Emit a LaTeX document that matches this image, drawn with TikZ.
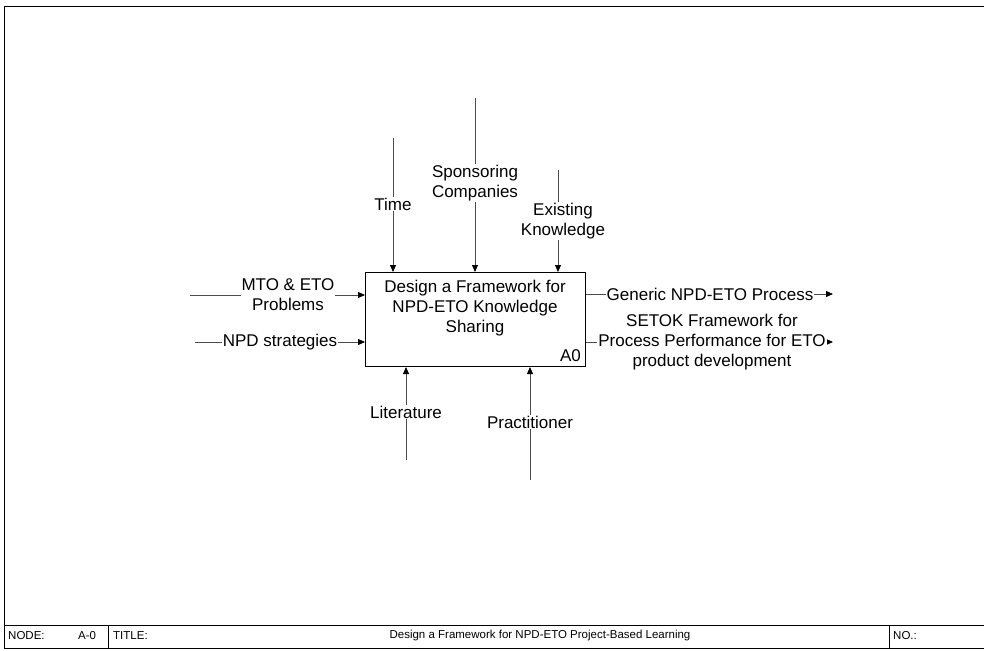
\documentclass[tikz,border=0pt]{standalone}
\usepackage{fontspec}
\setmainfont{Liberation Sans}
\usetikzlibrary{arrows.meta}
\begin{document}
\begin{tikzpicture}[x=1pt,y=-1pt,
  flow/.style={draw=black!70, line width=0.8pt, -{Triangle[length=7pt,width=6pt,color=black,fill=black]}},
  lbl/.style={fill=white, inner sep=1pt, align=center, font=\fontsize{17}{20}\selectfont},
  foot/.style={font=\fontsize{11.5}{13}\selectfont, anchor=west, inner sep=0pt}]
\useasboundingbox (0,0) rectangle (984,650);

% sheet frame and footer
\draw[line width=1pt] (984,7) -- (4,7) -- (4,648) -- (984,648);
\draw[line width=0.8pt] (4,625) -- (984,625);
\draw[line width=0.8pt] (108,625) -- (108,648);
\draw[line width=0.8pt] (889,625) -- (889,648);
\node[foot] (fnode) at (8,636) {NODE:};
\node[foot] (fa0) at (78,636) {A-0};
\node[foot] (ftitle) at (113,636) {TITLE:};
\node[foot, anchor=center] (ftext) at (540,636) {Design a Framework for NPD-ETO Project-Based Learning};
\node[foot] (fno) at (893,636) {NO.:};

% activity box
\node[draw, line width=1pt, minimum width=220pt, minimum height=94pt, anchor=north west, inner sep=0pt] (a0) at (365,272) {};
\node[align=center, inner sep=0pt, font=\fontsize{17}{20}\selectfont] (a0text) at (475,308)
  {Design a Framework for\\NPD-ETO Knowledge\\Sharing};
\node[anchor=south east, inner sep=0pt, font=\fontsize{17}{20}\selectfont] (a0id) at (581,362) {A0};

% inputs
\coordinate (inMto) at (190,295);
\coordinate (inNpd) at (195,342);
\draw[flow] (inMto) -- (inMto -| a0.west);
\draw[flow] (inNpd) -- (inNpd -| a0.west);
\node[lbl] (lMto) at (288,295) {MTO \& ETO\\Problems};
\node[lbl] (lNpd) at (280,342) {NPD strategies};

% controls
\coordinate (cTime) at (393,138);
\coordinate (cSpon) at (475,98);
\coordinate (cKnow) at (558,170);
\draw[flow] (cTime) -- (cTime |- a0.north);
\draw[flow] (cSpon) -- (cSpon |- a0.north);
\draw[flow] (cKnow) -- (cKnow |- a0.north);
\node[lbl] (lTime) at (393,204) {Time};
\node[lbl] (lSpon) at (475,183) {Sponsoring\\Companies};
\node[lbl] (lKnow) at (563,221) {Existing\\Knowledge};

% outputs
\coordinate (oGen) at (833,294);
\coordinate (oSet) at (833,342);
\draw[flow] (oGen -| a0.east) -- (oGen);
\draw[flow] (oSet -| a0.east) -- (oSet);
\node[lbl] (lGen) at (710,294) {Generic NPD-ETO Process};
\node[lbl] (lSet) at (712,342) {SETOK Framework for\\Process Performance for ETO\\product development};

% mechanisms
\coordinate (mLit) at (406,460);
\coordinate (mPra) at (530,480);
\draw[flow] (mLit) -- (mLit |- a0.south);
\draw[flow] (mPra) -- (mPra |- a0.south);
\node[lbl] (lLit) at (406,412) {Literature};
\node[lbl] (lPra) at (530,422) {Practitioner};
\end{tikzpicture}
\end{document}
